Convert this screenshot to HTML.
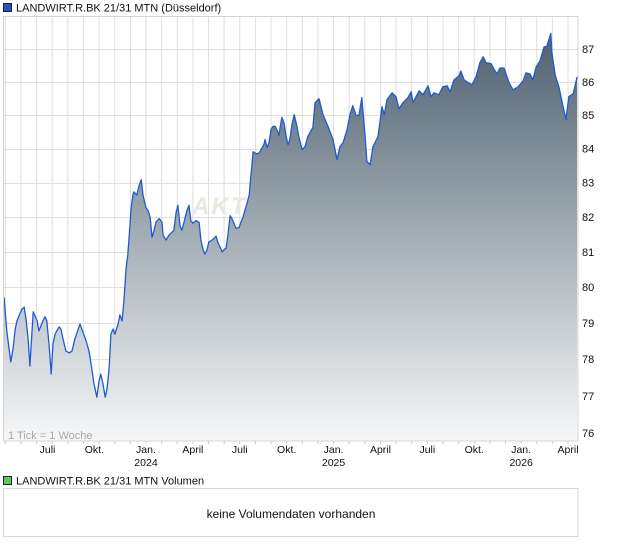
<!DOCTYPE html>
<html><head><meta charset="utf-8"><style>
html,body{margin:0;padding:0;background:#fff;width:620px;height:546px;overflow:hidden}
svg{display:block;font-family:"Liberation Sans",sans-serif}
</style></head><body>
<svg id="chart" width="620" height="546" viewBox="0 0 620 546" xmlns="http://www.w3.org/2000/svg">
<defs>
<linearGradient id="fillGrad" x1="0" y1="16" x2="0" y2="441" gradientUnits="userSpaceOnUse">
<stop offset="0" stop-color="#46596a"/>
<stop offset="0.45" stop-color="#98a3ab"/>
<stop offset="1" stop-color="#f6f7f8"/>
</linearGradient>
<clipPath id="plotClip"><rect x="3" y="16" width="575" height="425"/></clipPath>
</defs>
<rect x="3.5" y="3.5" width="8" height="8" fill="#1c57c4" stroke="#223" stroke-width="1"/>
<text x="16" y="11.5" font-size="11" fill="#111">LANDWIRT.R.BK 21/31 MTN (Düsseldorf)</text>
<g id="grid"></g>
<text x="192" y="214" font-size="24" font-style="italic" font-weight="bold" fill="#ebe7e1" letter-spacing="2">AKTIENCHECK</text>
<g id="series" clip-path="url(#plotClip)"></g>
<rect x="3.5" y="16.5" width="574.5" height="424.5" fill="none" stroke="#d4d4d4"/>
<text x="8" y="439" font-size="11" fill="#a8a8a8">1 Tick = 1 Woche</text>
<g id="yaxis"></g>
<g id="xaxis"></g>
<rect x="3.5" y="476.5" width="8" height="8" fill="#5cc85c" stroke="#223" stroke-width="1"/>
<text x="16" y="484.5" font-size="11" fill="#111">LANDWIRT.R.BK 21/31 MTN Volumen</text>
<rect x="3.5" y="488.5" width="574.5" height="48" fill="#fff" stroke="#d8d8d8"/>
<text x="291" y="518" font-size="12" fill="#111" text-anchor="middle">keine Volumendaten vorhanden</text>
</svg>
<script>
const weeks=[0,0.8,1.9,2.5,3.1,3.6,4.4,5,5.6,6.1,6.7,7.2,8.1,9.2,9.7,10.8,11.4,11.9,12.5,13.1,13.6,14.2,15.3,15.8,16.4,17.2,18.1,18.9,19.7,21.1,21.9,22.8,23.6,24.4,25,25.8,26.4,26.9,27.5,28.1,28.6,29.2,29.7,30.3,30.8,31.7,32.2,32.8,33.3,33.9,34.4,34.7,35.3,35.8,36.1,36.9,37.5,38.1,38.6,39.4,40,40.6,41.1,41.7,42.2,43.1,43.9,44.2,45,45.8,47.2,47.8,48.3,48.9,49.4,50,50.8,51.4,51.9,52.5,53.3,54.2,54.7,55.3,55.8,56.4,56.9,57.8,58.3,58.9,59.4,60,60.6,61.1,61.7,62.2,62.8,63.3,63.9,64.4,65.3,65.8,66.4,66.9,67.5,68.1,68.3,68.6,68.9,69.2,70,70.6,71.1,71.7,72.2,72.5,73.1,73.6,74.2,74.7,75.3,75.8,76.4,76.7,77.2,77.8,78.3,78.9,79.4,80,80.6,81.4,81.9,82.8,83.6,84.4,85.8,86.4,87.5,88.6,90,91.4,92.5,93.3,94.2,95.3,96.1,96.9,97.8,98.6,99.4,100.3,100.8,101.7,102.5,103.9,105,105.6,106.4,107.8,108.9,109.7,110.8,112.2,113.1,113.6,115.3,116.4,117.8,118.6,119.4,120.8,121.9,123.1,123.9,125,126.4,126.9,127.8,128.6,130,131.1,132.2,133.1,133.9,135.3,136.9,137.8,138.9,140.3,141.4,142.8,144.2,145,146.1,146.9,147.8,148.9,150,150.8,151.9,152.2,153.1,154.2,155.3,156.1,156.9,158.1,159.2];
const prices=[79.72,78.75,77.92,78.28,78.83,79.06,79.25,79.39,79.44,79.11,78.56,77.81,79.31,79.06,78.78,79.06,79.17,79.06,78.42,77.59,78.42,78.69,78.89,78.83,78.56,78.22,78.17,78.22,78.56,78.97,78.75,78.5,78.22,77.73,77.32,76.96,77.4,77.59,77.32,76.96,77.18,77.73,78.69,78.83,78.69,78.97,79.22,79.06,79.61,80.5,80.92,81.34,82.25,82.64,82.73,82.64,82.91,83.09,82.64,82.28,82.19,81.99,81.42,81.62,81.85,81.96,81.85,81.48,81.34,81.48,81.62,82.13,82.34,81.76,81.62,81.85,82.19,82.34,81.9,81.82,81.9,81.85,81.34,81.06,80.94,81.06,81.28,81.34,81.39,81.45,81.28,81.14,81.0,81.06,81.11,81.48,82.04,81.96,81.82,81.68,81.7,81.85,81.99,82.19,82.4,82.64,82.88,83.24,83.53,83.91,83.85,83.85,83.91,84.03,84.12,84.27,84.03,84.18,84.57,84.66,84.66,84.57,84.39,84.63,84.93,84.75,84.39,84.12,84.27,84.72,85.01,84.66,84.36,83.97,84.06,84.36,84.63,85.37,85.49,85.01,84.66,84.27,83.68,84.06,84.18,84.57,85.01,85.28,84.99,84.99,85.52,84.36,83.62,83.53,84.06,84.36,85.25,85.01,85.46,85.67,85.55,85.19,85.37,85.52,85.7,85.37,85.73,85.61,85.88,85.55,85.67,85.61,85.85,85.88,85.7,86.06,86.18,86.33,86.06,86.0,85.91,86.15,86.58,86.76,86.58,86.55,86.24,86.42,86.42,85.97,85.76,85.85,86.03,86.27,86.24,86.06,86.45,86.64,87.06,87.09,87.48,86.88,86.21,85.82,85.25,84.87,85.55,85.64,86.15];
const yTicks=[76,77,78,79,80,81,82,83,84,85,86,87];
const monthLabels=[{m:-6.3,t:"Juli"},{m:-3.3,t:"Okt."},{m:0,t:"Jan.",y:"2024"},{m:3,t:"April"},{m:6,t:"Juli"},{m:9,t:"Okt."},{m:12,t:"Jan.",y:"2025"},{m:15,t:"April"},{m:18,t:"Juli"},{m:21,t:"Okt."},{m:24,t:"Jan.",y:"2026"},{m:27,t:"April"}];

const NS="http://www.w3.org/2000/svg";
const PL=3,PR=578,PT=16,PB=441;
function xScale(w){return 4+w*3.6;}
const lnTop=Math.log(87),K=2840;
function yScale(v){return 49+(lnTop-Math.log(v))*K;}
function monthX(m){return xScale(39.44+m*4.342);}
function mk(tag,attrs,parent){const e=document.createElementNS(NS,tag);for(const k in attrs)e.setAttribute(k,attrs[k]);parent.appendChild(e);return e;}

const grid=document.getElementById('grid');
for(let m=-9;m<=28;m++){const x=monthX(m);if(x<=PL+1||x>=PR)continue;
 const l=mk('line',{x1:x,x2:x,y1:PT,y2:PB,stroke:'#dedede','stroke-width':1},grid);
 
 }
yTicks.forEach(v=>{const y=Math.round(yScale(v))+0.5;
 const l=mk('line',{x1:PL,x2:PR,y1:y,y2:y,stroke:'#dedede','stroke-width':1},grid);
 
 });

const series=document.getElementById('series');
let d='';weeks.forEach((w,i)=>{d+=(i?'L':'M')+xScale(w).toFixed(1)+','+yScale(prices[i]).toFixed(1);});
const area=mk('path',{d:d+'L'+xScale(weeks[weeks.length-1]).toFixed(1)+','+PB+'L'+xScale(weeks[0]).toFixed(1)+','+PB+'Z',fill:'url(#fillGrad)'},series);


const line=mk('path',{d:d,fill:'none',stroke:'#1f5bd0','stroke-width':1.3,'stroke-linejoin':'round'},series);



const ya=document.getElementById('yaxis');
yTicks.forEach(v=>{const t=mk('text',{x:582,y:yScale(v)+4,'font-size':11,fill:'#111'},ya);t.textContent=v;
 
 });

const xa=document.getElementById('xaxis');
for(let m=-9;m<=28;m++){const x=monthX(m);if(x<=PL||x>=PR)continue;
 const l=mk('line',{x1:x,x2:x,y1:PB,y2:PB+3,stroke:'#ccc'},xa);
 
 }
monthLabels.forEach(o=>{const x=monthX(o.m);
 const t=mk('text',{x:x,y:453,'font-size':10.5,fill:'#111','text-anchor':'middle'},xa);t.textContent=o.t;
 
 
 if(o.y){const t2=mk('text',{x:x,y:466,'font-size':10.5,fill:'#111','text-anchor':'middle'},xa);t2.textContent=o.y;
 
 }});
</script>
</body></html>
